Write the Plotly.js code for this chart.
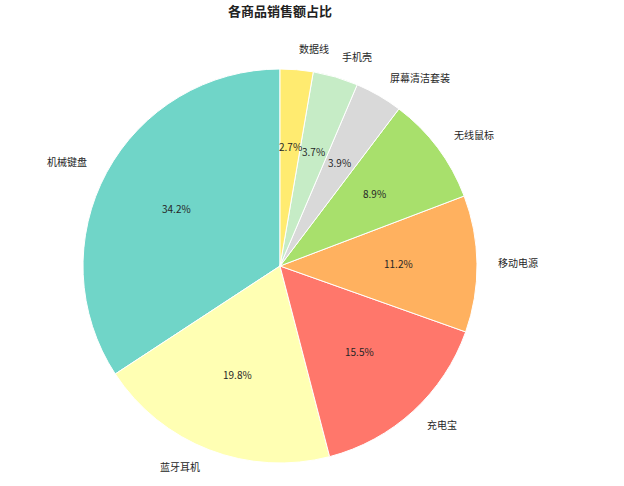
<!DOCTYPE html>
<html>
<head>
<meta charset="utf-8">
<script src="https://cdn.plot.ly/plotly-3.0.1.min.js"></script>
<style>html,body{margin:0;padding:0;background:#fff}</style>
</head>
<body>
<div id="chart" style="width:624px;height:486px"></div>
<script>
"use strict";
// 商品与销售额占比 (%)
var products = ["机械键盘", "蓝牙耳机", "充电宝", "移动电源", "无线鼠标", "屏幕清洁套装", "手机壳", "数据线"];
var shares = [34.2, 19.8, 15.5, 11.2, 8.9, 3.9, 3.7, 2.7];
var colors = ["#70d5c8", "#ffffb3", "#ff776b", "#ffb15f", "#a8e06c", "#d9d9d9", "#c6ecc6", "#ffeb70"];

var W = 624, H = 486;
var cx = 280, cy = 266, R = 197;   // pie centre / radius in px
var font = "Noto Sans CJK SC, DejaVu Sans, sans-serif";

var total = shares.reduce(function (a, b) { return a + b; }, 0);
var annotations = [];
var cum = 0;
shares.forEach(function (v, i) {
  var mid = (90 + 360 * (cum + v / 2) / total) * Math.PI / 180;
  cum += v;
  var c = Math.cos(mid), s = Math.sin(mid);
  // label outside, like matplotlib labeldistance=1.1
  annotations.push({
    text: products[i], showarrow: false, xref: "paper", yref: "paper",
    x: (cx + 1.1 * R * c) / W, y: 1 - (cy - 1.1 * R * s) / H,
    xanchor: c >= 0 ? "left" : "right", yanchor: "middle", xshift: c >= 0 ? -1 : 0, yshift: 1.5,
    font: {family: font, size: 10, color: "#262626"}
  });
  // percentage inside at 0.6 radius
  annotations.push({
    text: (v / total * 100).toFixed(1) + "%", showarrow: false, xref: "paper", yref: "paper",
    x: (cx + 0.6 * R * c) / W, y: 1 - (cy - 0.6 * R * s) / H,
    xanchor: "center", yanchor: "middle", yshift: 1.5,
    font: {family: font, size: 10, color: "#262626"}
  });
});

var data = [{
  type: "pie",
  labels: products,
  values: shares,
  sort: false,
  direction: "counterclockwise",
  // plotly puts the end of the first slice at the rotation angle when counterclockwise
  rotation: -360 * shares[0] / total,
  textinfo: "none",
  hoverinfo: "label+percent",
  marker: {colors: colors, line: {color: "#ffffff", width: 1}},
  domain: {x: [(cx - R) / W, (cx + R) / W], y: [1 - (cy + R) / H, 1 - (cy - R) / H]}
}];

var layout = {
  width: W, height: H,
  margin: {l: 0, r: 0, t: 0, b: 0},
  showlegend: false,
  paper_bgcolor: "#ffffff",
  title: {
    text: "<b>各商品销售额占比</b>",
    x: cx / W, xanchor: "center", y: 1 - 11 / H, yanchor: "middle",
    font: {family: font, size: 13, color: "#222"}
  },
  annotations: annotations
};

Plotly.newPlot("chart", data, layout, {staticPlot: true});
</script>
</body>
</html>
